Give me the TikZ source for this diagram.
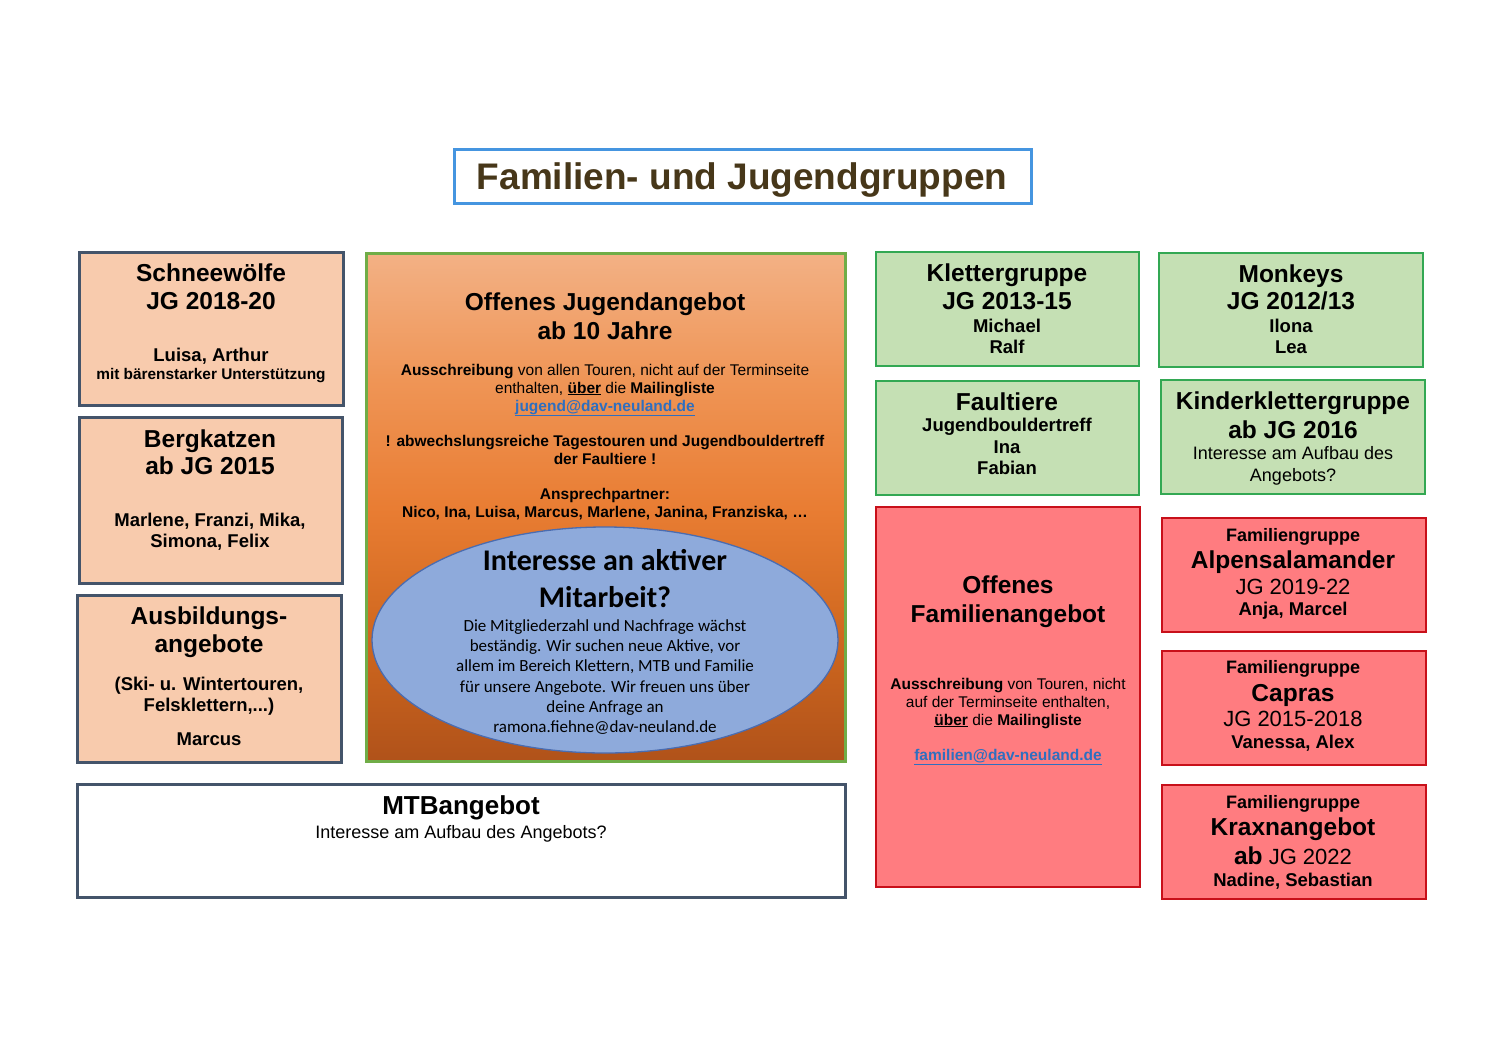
\documentclass[tikz,border=0pt]{standalone}
\usepackage{fontspec}
\setmainfont{Liberation Sans}
\newfontfamily\calfont{Carlito}
\usetikzlibrary{shapes.geometric,fit}
\definecolor{peach}{HTML}{F8CBAD}
\definecolor{slate}{HTML}{44546A}
\definecolor{lgreen}{HTML}{C5E0B4}
\definecolor{bgreen}{HTML}{33A853}
\definecolor{lred}{HTML}{FF7C80}
\definecolor{dred}{HTML}{C8101A}
\definecolor{ogreen}{HTML}{70AD47}
\definecolor{tblue}{HTML}{4595E0}
\definecolor{tbrown}{HTML}{473719}
\definecolor{linkblue}{HTML}{2E6FC0}
\definecolor{ellfill}{HTML}{8EAADB}
\definecolor{ellline}{HTML}{4A6CB0}
\definecolor{otop}{HTML}{F3B185}
\definecolor{oup}{HTML}{EF9556}
\definecolor{omid}{HTML}{E97D33}
\definecolor{olow}{HTML}{D0681F}
\definecolor{obot}{HTML}{B0521A}
\pgfdeclareverticalshading{orangesh}{100bp}{color(0bp)=(obot); color(25bp)=(obot); color(37.5bp)=(olow); color(50bp)=(omid); color(62.5bp)=(oup); color(75bp)=(otop); color(100bp)=(otop)}
\newcommand\fsz[1]{\fontsize{#1pt}{#1pt}\selectfont}
\newcommand\boxat[6]{%
  \path (#3,#4) coordinate (#1-a) (#5,#6) coordinate (#1-b);
  \node[#2, fit=(#1-a)(#1-b), inner sep=0pt] (#1) {};}
\tikzset{
  slatebox/.style={draw=slate, line width=3pt, fill=peach},
  greenbox/.style={draw=bgreen, line width=2.8pt, fill=lgreen},
  redbox/.style={draw=dred, line width=2.8pt, fill=lred},
  tx/.style={anchor=base, inner sep=0pt, align=center},
  big/.style={tx, font=\fsz{24.5}\bfseries},
  nm/.style={tx, font=\fsz{18.5}\bfseries},
  small/.style={tx, font=\fsz{15.5}},
  smallb/.style={tx, font=\fsz{15.5}\bfseries},
  reg/.style={tx, font=\fsz{18}},
  jg/.style={tx, font=\fsz{22}},
  fam/.style={tx, font=\fsz{18}\bfseries},
  ell/.style={tx, font=\calfont\fsz{17}},
}
\begin{document}
\begin{tikzpicture}[x=1pt,y=-1pt]
\fill[white] (0,0) rectangle (1485,1050);
\useasboundingbox (0,0) rectangle (1485,1050);

% title
\boxat{title}{draw=tblue, line width=3pt, fill=white}{454}{149}{1031}{203}
\node[tx, font=\fsz{37}\bfseries, text=tbrown] (titletext) at (742,189) {Familien- und Jugendgruppen};

% left column
\boxat{sw}{slatebox}{79}{252}{343}{405}
\node[big] (sw1) at (211,281) {Schneewölfe};
\node[big] (sw2) at (211,309) {JG 2018-20};
\node[nm] (sw3) at (211,361) {Luisa, Arthur};
\node[tx, font=\fsz{15.4}\bfseries] (sw4) at (211,379) {mit bärenstarker Unterstützung};

\boxat{bk}{slatebox}{79}{417}{342}{583}
\node[big] (bk1) at (210,447) {Bergkatzen};
\node[big] (bk2) at (210,474) {ab JG 2015};
\node[nm] (bk3) at (210,526) {Marlene, Franzi, Mika,};
\node[nm] (bk4) at (210,547) {Simona, Felix};

\boxat{ab}{slatebox}{77}{595}{341}{762}
\node[big] (ab1) at (209,624) {Ausbildungs-};
\node[big] (ab2) at (209,652) {angebote};
\node[nm] (ab3) at (209,690) {(Ski- u. Wintertouren,};
\node[nm] (ab4) at (209,711) {Felsklettern,...)};
\node[nm] (ab5) at (209,745) {Marcus};

% orange box
\boxat{oj}{draw=ogreen, line width=3pt, shading=orangesh}{366}{253}{845}{761}
\node[big] (oj1) at (605,310) {Offenes Jugendangebot};
\node[big] (oj2) at (605,339) {ab 10 Jahre};
\node[small] (oj3) at (605,375) {\textbf{Ausschreibung} von allen Touren, nicht auf der Terminseite};
\node[small] (oj4) at (605,393) {enthalten, \textbf{\underline{über}} die \textbf{Mailingliste}};
\node[smallb, text=linkblue] (oj5) at (605,411) {\underline{jugend@dav-neuland.de}};
\node[smallb] (oj6) at (605,446) {! abwechslungsreiche Tagestouren und Jugendbouldertreff};
\node[smallb] (oj7) at (605,464) {der Faultiere !};
\node[smallb] (oj8) at (605,499) {Ansprechpartner:};
\node[smallb] (oj9) at (605,517) {Nico, Ina, Luisa, Marcus, Marlene, Janina, Franziska, \dots};

\node[ellipse, draw=ellline, line width=1.3pt, fill=ellfill, minimum width=466pt, minimum height=226pt, inner sep=0pt] (ell) at (605,640) {};
\node[tx, font=\calfont\fsz{30}\bfseries] (el1) at (605,570) {Interesse an aktiver};
\node[tx, font=\calfont\fsz{30}\bfseries] (el2) at (605,607) {Mitarbeit?};
\node[ell] (el3) at (605,631) {Die Mitgliederzahl und Nachfrage wächst};
\node[ell] (el4) at (605,651) {beständig. Wir suchen neue Aktive, vor};
\node[ell] (el5) at (605,671) {allem im Bereich Klettern, MTB und Familie};
\node[ell] (el6) at (605,692) {für unsere Angebote. Wir freuen uns über};
\node[ell] (el7) at (605,712) {deine Anfrage an};
\node[ell] (el8) at (605,732) {ramona.fiehne@dav-neuland.de};

% MTB
\boxat{mtb}{draw=slate, line width=3pt, fill=white}{77}{784}{845}{897}
\node[tx, font=\fsz{26}\bfseries] (mtb1) at (461,814) {MTBangebot};
\node[reg] (mtb2) at (461,838) {Interesse am Aufbau des Angebots?};

% green boxes
\boxat{kg}{greenbox}{876}{252}{1139}{366}
\node[big] (kg1) at (1007,281) {Klettergruppe};
\node[big] (kg2) at (1007,309) {JG 2013-15};
\node[nm] (kg3) at (1007,332) {Michael};
\node[nm] (kg4) at (1007,353) {Ralf};

\boxat{mk}{greenbox}{1159}{253}{1423}{367}
\node[big] (mk1) at (1291,282) {Monkeys};
\node[big] (mk2) at (1291,309) {JG 2012/13};
\node[nm] (mk3) at (1291,332) {Ilona};
\node[nm] (mk4) at (1291,353) {Lea};

\boxat{ft}{greenbox}{876}{381}{1139}{495}
\node[big] (ft1) at (1007,410) {Faultiere};
\node[nm] (ft2) at (1007,431) {Jugendbouldertreff};
\node[nm] (ft3) at (1007,453) {Ina};
\node[nm] (ft4) at (1007,474) {Fabian};

\boxat{kk}{greenbox}{1161}{380}{1425}{494}
\node[big] (kk1) at (1293,409) {Kinderklettergruppe};
\node[big] (kk2) at (1293,438) {ab JG 2016};
\node[reg] (kk3) at (1293,459) {Interesse am Aufbau des};
\node[reg] (kk4) at (1293,481) {Angebots?};

% red boxes
\boxat{of}{redbox}{876}{507}{1140}{887}
\node[big] (of1) at (1008,593) {Offenes};
\node[big] (of2) at (1008,622) {Familienangebot};
\node[small] (of3) at (1008,689) {\textbf{Ausschreibung} von Touren, nicht};
\node[small] (of4) at (1008,707) {auf der Terminseite enthalten,};
\node[small] (of5) at (1008,725) {\textbf{\underline{über}} die \textbf{Mailingliste}};
\node[smallb, text=linkblue] (of6) at (1008,760) {\underline{familien@dav-neuland.de}};

\boxat{as}{redbox}{1162}{518}{1426}{632}
\node[fam] (as1) at (1293,541) {Familiengruppe};
\node[big] (as2) at (1293,568) {Alpensalamander};
\node[jg] (as3) at (1293,594) {JG 2019-22};
\node[nm] (as4) at (1293,615) {Anja, Marcel};

\boxat{cp}{redbox}{1162}{651}{1426}{765}
\node[fam] (cp1) at (1293,673) {Familiengruppe};
\node[big] (cp2) at (1293,701) {Capras};
\node[jg] (cp3) at (1293,726) {JG 2015-2018};
\node[nm] (cp4) at (1293,748) {Vanessa, Alex};

\boxat{kx}{redbox}{1162}{785}{1426}{899}
\node[fam] (kx1) at (1293,808) {Familiengruppe};
\node[big] (kx2) at (1293,835) {Kraxnangebot};
\node[jg] (kx3) at (1293,864) {{\fsz{24.5}\bfseries ab} JG 2022};
\node[nm] (kx4) at (1293,886) {Nadine, Sebastian};
\end{tikzpicture}
\end{document}
